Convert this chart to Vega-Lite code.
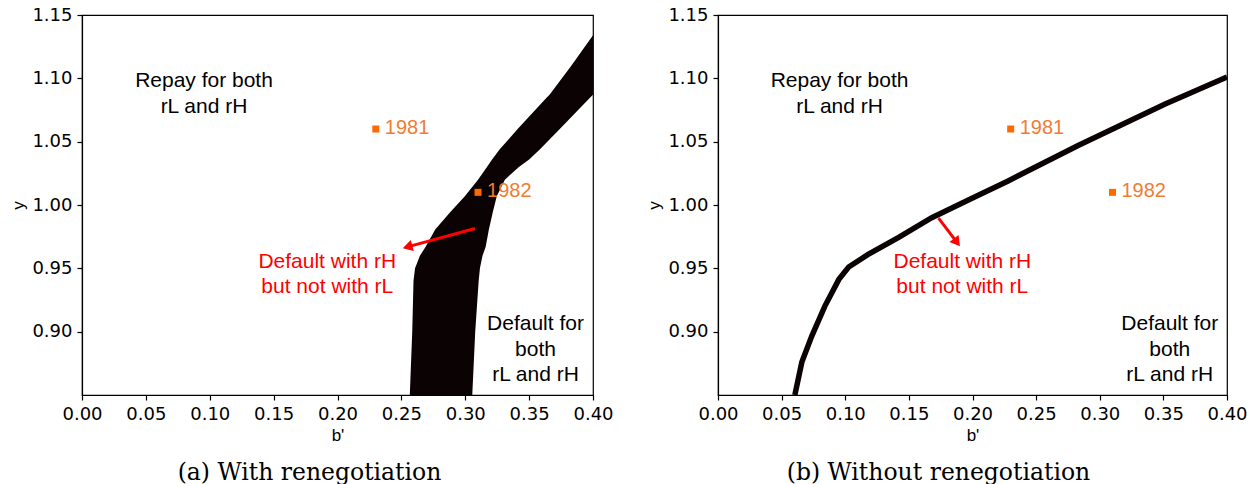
{
 "$schema": "https://vega.github.io/schema/vega-lite/v6.json",
 "padding": {"left": 9, "top": 5, "right": 2, "bottom": 0},
 "background": "white",
 "bounds": "flush",
 "spacing": 125,
 "config": {
  "view": {"stroke": "black", "strokeWidth": 1.2},
  "axis": {"grid": false, "domainColor": "black", "domainWidth": 1.2, "tickColor": "black", "tickWidth": 1.2, "tickSize": 5, "labelFont": "DejaVu Sans", "labelFontSize": 18, "labelColor": "black", "labelPadding": 5, "labelFlush": false, "labelOverlap": false, "titleFont": "Liberation Sans", "titleFontSize": 17, "titleFontWeight": "normal", "titleColor": "black"},
  "title": {"font": "DejaVu Serif", "fontSize": 23.5, "fontWeight": "normal", "color": "black"}
 },
 "datasets": {
  "band": [
   {"v": 0.85, "b": 0.2566, "b2": 0.3055},
   {"v": 0.90, "b": 0.2585, "b2": 0.3078},
   {"v": 0.94, "b": 0.2595, "b2": 0.3105},
   {"v": 0.95, "b": 0.2607, "b2": 0.3115},
   {"v": 0.96, "b": 0.2645, "b2": 0.3135},
   {"v": 0.967, "b": 0.2690, "b2": 0.3160},
   {"v": 0.9807, "b": 0.2765, "b2": 0.3185},
   {"v": 0.994, "b": 0.2880, "b2": 0.3215},
   {"v": 1.0067, "b": 0.2995, "b2": 0.3246},
   {"v": 1.02, "b": 0.3100, "b2": 0.3310},
   {"v": 1.03, "b": 0.3170, "b2": 0.3420},
   {"v": 1.036, "b": 0.3210, "b2": 0.3500},
   {"v": 1.044, "b": 0.3270, "b2": 0.3585},
   {"v": 1.06, "b": 0.3410, "b2": 0.3740},
   {"v": 1.085, "b": 0.3640, "b2": 0.3980},
   {"v": 1.087, "b": 0.3660, "b2": 0.4},
   {"v": 1.11, "b": 0.3830, "b2": 0.4},
   {"v": 1.134, "b": 0.4, "b2": 0.4}
  ],
  "curve": [
   {"b": 0.0604, "v": 0.85},
   {"b": 0.0659, "v": 0.876},
   {"b": 0.0737, "v": 0.8965},
   {"b": 0.0839, "v": 0.920},
   {"b": 0.095, "v": 0.9413},
   {"b": 0.1027, "v": 0.951},
   {"b": 0.118, "v": 0.961},
   {"b": 0.142, "v": 0.9744},
   {"b": 0.168, "v": 0.990},
   {"b": 0.198, "v": 1.0045},
   {"b": 0.228, "v": 1.019},
   {"b": 0.283, "v": 1.047},
   {"b": 0.351, "v": 1.0795},
   {"b": 0.4, "v": 1.101}
  ],
  "pts": [
   {"b": 0.23, "v": 1.06, "label": "1981"},
   {"b": 0.31, "v": 1.01, "label": "1982"}
  ],
  "texts": [
   {"b": 0.0955, "v": 1.0929, "t": "Repay for both|rL and rH", "c": "black"},
   {"b": 0.192, "v": 0.9503, "t": "Default with rH|but not with rL", "c": "#ff0000"},
   {"b": 0.355, "v": 0.9013, "t": "Default for|both|rL and rH", "c": "black"}
  ],
  "arrowL": [{"b": 0.3076, "v": 0.9815, "b2": 0.2548, "v2": 0.9669, "ang": 254.7}],
  "arrowR": [{"b": 0.1733, "v": 0.9897, "b2": 0.1878, "v2": 0.9705, "ang": 142.8}]
 },
 "hconcat": [
  {
   "width": 511, "height": 380,
   "title": {"text": "(a) With renegotiation", "orient": "bottom", "anchor": "middle", "dx": -28, "offset": 18},
   "encoding": {
    "x": {"field": "b", "type": "quantitative", "scale": {"domain": [0, 0.4], "nice": false, "zero": false}, "axis": {"values": [0, 0.05, 0.1, 0.15, 0.2, 0.25, 0.3, 0.35, 0.4], "format": ".2f", "title": "b'"}},
    "y": {"field": "v", "type": "quantitative", "scale": {"domain": [0.85, 1.15], "nice": false, "zero": false}, "axis": {"values": [0.9, 0.95, 1.0, 1.05, 1.1, 1.15], "format": ".2f", "title": "y"}}
   },
   "layer": [
    {"data": {"name": "band"}, "mark": {"type": "area", "orient": "horizontal", "color": "#0a0203", "clip": true}, "encoding": {"x2": {"field": "b2"}}},
    {"data": {"name": "arrowL"}, "mark": {"type": "rule", "color": "#ff0000", "strokeWidth": 3}, "encoding": {"x2": {"field": "b2"}, "y2": {"field": "v2"}}},
    {"data": {"name": "arrowL"}, "mark": {"type": "point", "shape": "triangle-up", "filled": true, "color": "#ff0000", "size": 130, "opacity": 1}, "encoding": {"x": {"field": "b2", "type": "quantitative"}, "y": {"field": "v2", "type": "quantitative"}, "angle": {"field": "ang", "type": "quantitative", "scale": null}}},
    {"data": {"name": "pts"}, "mark": {"type": "square", "color": "#ff6a00", "size": 49, "opacity": 1}, "encoding": {}},
    {"data": {"name": "pts"}, "mark": {"type": "text", "align": "left", "baseline": "middle", "dx": 9, "dy": -1, "fontSize": 20, "font": "Liberation Sans", "color": "#f07c32"}, "encoding": {"text": {"field": "label"}}},
    {"data": {"name": "texts"}, "mark": {"type": "text", "align": "center", "baseline": "alphabetic", "font": "Liberation Sans", "fontSize": 21, "lineBreak": "|", "lineHeight": 25.5}, "encoding": {"text": {"field": "t"}, "color": {"field": "c", "type": "nominal", "scale": null}}}
   ]
  },
  {
   "width": 509, "height": 380,
   "title": {"text": "(b) Without renegotiation", "orient": "bottom", "anchor": "middle", "dx": -34, "offset": 18},
   "encoding": {
    "x": {"field": "b", "type": "quantitative", "scale": {"domain": [0, 0.4], "nice": false, "zero": false}, "axis": {"values": [0, 0.05, 0.1, 0.15, 0.2, 0.25, 0.3, 0.35, 0.4], "format": ".2f", "title": "b'"}},
    "y": {"field": "v", "type": "quantitative", "scale": {"domain": [0.85, 1.15], "nice": false, "zero": false}, "axis": {"values": [0.9, 0.95, 1.0, 1.05, 1.1, 1.15], "format": ".2f", "title": "y"}}
   },
   "layer": [
    {"data": {"name": "curve"}, "mark": {"type": "line", "color": "#0a0203", "strokeWidth": 5.5, "strokeCap": "butt", "clip": true}, "encoding": {}},
    {"data": {"name": "arrowR"}, "mark": {"type": "rule", "color": "#ff0000", "strokeWidth": 3}, "encoding": {"x2": {"field": "b2"}, "y2": {"field": "v2"}}},
    {"data": {"name": "arrowR"}, "mark": {"type": "point", "shape": "triangle-up", "filled": true, "color": "#ff0000", "size": 130, "opacity": 1}, "encoding": {"x": {"field": "b2", "type": "quantitative"}, "y": {"field": "v2", "type": "quantitative"}, "angle": {"field": "ang", "type": "quantitative", "scale": null}}},
    {"data": {"name": "pts"}, "mark": {"type": "square", "color": "#ff6a00", "size": 49, "opacity": 1}, "encoding": {}},
    {"data": {"name": "pts"}, "mark": {"type": "text", "align": "left", "baseline": "middle", "dx": 9, "dy": -1, "fontSize": 20, "font": "Liberation Sans", "color": "#f07c32"}, "encoding": {"text": {"field": "label"}}},
    {"data": {"name": "texts"}, "mark": {"type": "text", "align": "center", "baseline": "alphabetic", "font": "Liberation Sans", "fontSize": 21, "lineBreak": "|", "lineHeight": 25.5}, "encoding": {"text": {"field": "t"}, "color": {"field": "c", "type": "nominal", "scale": null}}}
   ]
  }
 ]
}
